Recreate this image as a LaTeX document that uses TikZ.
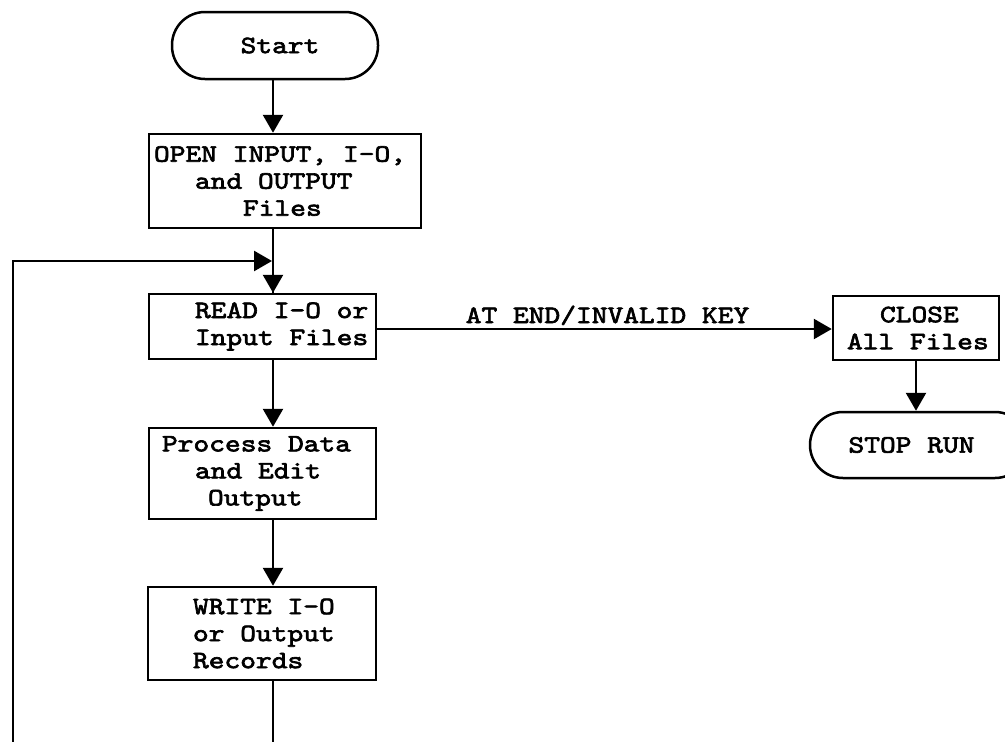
\documentclass[tikz,border=0pt]{standalone}
\usepackage{fontspec}
\newfontfamily\tw{lmmono10-regular.otf}[FakeStretch=1.2,FakeBold=2.6]
\newcommand\tsp{\hspace*{15.75pt}}
\usetikzlibrary{arrows.meta}
\tikzset{
  ln/.style={line width=2.6pt},
  arr/.style={ln,-{Triangle[length=18pt,width=20pt]}},
  txt/.style={font=\tw\fontsize{25}{27}\selectfont},
  procbox/.style={draw,line width=2.5pt,rectangle,inner sep=0pt,align=left,txt},
  term/.style={draw,line width=2.5pt,rounded corners=33pt,inner sep=0pt,align=center,txt},
}
\begin{document}
\begin{tikzpicture}[x=1pt,y=-1pt]
\useasboundingbox (0,0) rectangle (1005,742);
\clip (0,0) rectangle (1005,742);
\node[term,minimum width=206pt,minimum height=67pt] (start) at (275,45.5) {\hspace*{10pt}Start};
\node[procbox,text width=272pt,minimum height=94pt] (open) at (285,181)
  {\hspace*{5pt}OPEN\tsp{}INPUT,\tsp{}I-O,\\\hspace*{46pt}and\tsp{}OUTPUT\\\hspace*{94pt}Files};
\node[procbox,text width=227pt,minimum height=65pt] (read) at (262.5,326.5)
  {\hspace*{46pt}READ\tsp{}I-O\tsp{}or\\\hspace*{46pt}Input\tsp{}Files};
\node[procbox,text width=227pt,minimum height=91pt] (proc) at (262.5,473.5)
  {\hspace*{13pt}Process\tsp{}Data\\\hspace*{46pt}and\tsp{}Edit\\\hspace*{59pt}Output};
\node[procbox,text width=228pt,minimum height=93pt] (write) at (262,633.5)
  {\hspace*{45pt}WRITE\tsp{}I-O\\\hspace*{45pt}or\tsp{}Output\\\hspace*{45pt}Records};
\node[procbox,text width=166pt,minimum height=64pt] (close) at (916,328)
  {\hspace*{47pt}CLOSE\\\hspace*{14pt}All\tsp{}Files};
\node[term,minimum width=218pt,minimum height=66pt] (stop) at (919,445) {STOP\tsp{}RUN\hspace*{15pt}};
\node[txt,anchor=base] (lbl) at (607.5,323) {AT\tsp{}END/INVALID\tsp{}KEY};
\coordinate (sp) at (273,0);
\coordinate (ay) at (0,329);
\coordinate (lb) at (13,742);
\coordinate (jn) at (272,261);
\draw[arr] (sp |- start.south) -- (sp |- open.north);
\draw[ln] (sp |- open.south) -- (sp |- read.north);
\draw[arr] (sp |- jn) -- (sp |- read.north);
\draw[arr] (sp |- read.south) -- (sp |- proc.north);
\draw[arr] (sp |- proc.south) -- (sp |- write.north);
\draw[ln] (sp |- write.south) -- (sp |- lb);
\draw[arr] (lb) -- (lb |- jn) -- (jn);
\draw[arr] (read.east |- ay) -- (close.west |- ay);
\draw[arr] (close.south) -- (close.south |- stop.north);
\end{tikzpicture}
\end{document}
